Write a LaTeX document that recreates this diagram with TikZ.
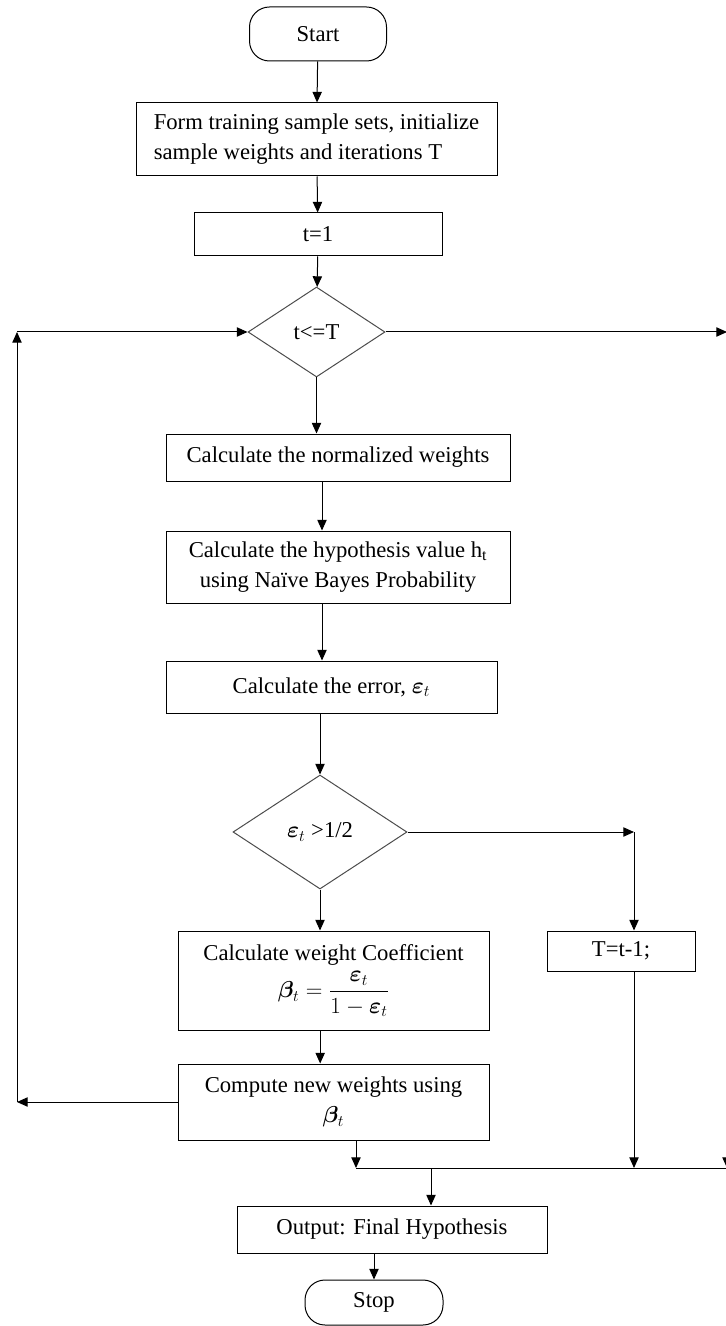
\documentclass[tikz,border=0pt]{standalone}
\usepackage{amsmath,bm}
\usepackage{fontspec}
\setmainfont{Liberation Serif}
\usetikzlibrary{shapes.geometric,arrows.meta}

\begin{document}
\begin{tikzpicture}[x=0.75pt,y=-0.75pt,
		font=\fontsize{17}{22.5}\selectfont,
		line width=0.75pt,
		box/.style={draw, rectangle, inner sep=0pt, align=center},
		term/.style={draw, rectangle, rounded corners=15pt, inner sep=0pt},
		decision/.style={draw=black!70, diamond, inner sep=0pt},
		arr/.style={-{Triangle[length=8pt,width=7pt]}}]
		\useasboundingbox (0,0) rectangle (725,1326);

		\draw (318,34) node [term, minimum width=102.75pt, minimum height=40.5pt] (start) {Start};
		\draw (316.5,139.5) node [box, align=left, minimum width=270.75pt, minimum height=54.75pt] (form) {Form training sample sets, initialize\\sample weights and iterations T};
		\draw (318,234.5) node [box, minimum width=186pt, minimum height=32.25pt] (t1) {t=1};
		\draw (316.5,332) node [decision, minimum width=102.75pt, minimum height=67.5pt] (dec1) {t<=T};
		\draw (338,457.5) node [box, minimum width=258pt, minimum height=35.25pt] (norm) {Calculate the normalized weights};
		\draw (338,567) node [box, minimum width=258pt, minimum height=54pt] (hyp) {Calculate the hypothesis value h\textsubscript{t}\\using Naïve Bayes Probability};
		\draw (331.5,687) node [box, minimum width=248.25pt, minimum height=39pt] (err) {Calculate the error, $\bm{\varepsilon}_t$};
		\draw (320,832) node [decision, minimum width=130.5pt, minimum height=85.5pt] (dec2) {$\bm{\varepsilon}_t$\ >1/2};
		\draw (333.5,980.5) node [box, minimum width=233.25pt, minimum height=74.25pt] (coef) {Calculate weight Coefficient\\[4pt]$\bm{\beta}_t=\dfrac{\bm{\varepsilon}_t}{1-\bm{\varepsilon}_t}$};
		\draw (621,951) node [box, minimum width=111pt, minimum height=30pt] (tbox) {T=t-1;};
		\draw (333.5,1102) node [box, minimum width=233.25pt, minimum height=57pt] (comp) {Compute new weights using\\$\bm{\beta}_t$};
		\draw (392,1229.5) node [box, minimum width=232.5pt, minimum height=35.25pt] (out) {Output: Final Hypothesis};
		\draw (374,1302.5) node [term, minimum width=103.5pt, minimum height=33.75pt] (stop) {Stop};

		\coordinate (c1) at (634,832);
		\coordinate (lp1) at (17,1102);
		\coordinate (lp2) at (17,332);
		\coordinate (rp1) at (727,332);
		\coordinate (rp2) at (727,1168);
		\coordinate (m1) at (356,1168);
		\coordinate (m2) at (727,1168);
		\coordinate (m3) at (431,1168);

		\draw
			(start) edge [arr] (form)
			(form) edge [arr] (t1)
			(t1) edge [arr] (dec1)
			(dec1.south) edge [arr] (dec1.south |- norm.north)
			([xshift=-12pt]norm.south) edge [arr] ([xshift=-12pt]hyp.north)
			([xshift=-12pt]hyp.south) edge [arr] ([xshift=-12pt]hyp.south |- err.north)
			(err.south -| dec2.north) edge [arr] (dec2.north)
			(dec2.south) edge [arr] (dec2.south |- coef.north)
			(dec2.east) edge [arr] (c1)
			(c1) edge [arr] (c1 |- tbox.north)
			([xshift=-10pt]coef.south) edge [arr] ([xshift=-10pt]coef.south |- comp.north)
			(comp.west) edge [arr] (lp1)
			(lp1) edge [arr] (lp2)
			(lp2) edge [arr] (dec1.west)
			(dec1.east) edge [arr] (rp1)
			(rp1) edge [arr] (rp2)
			(m1 |- comp.south) edge [arr] (m1)
			(c1 |- tbox.south) edge [arr] (c1 |- m1)
			(m3) edge [arr] (m3 |- out.north)
			(stop.north |- out.south) edge [arr] (stop.north)
			(m1) edge (m2)
		;
	\end{tikzpicture}
\end{document}
